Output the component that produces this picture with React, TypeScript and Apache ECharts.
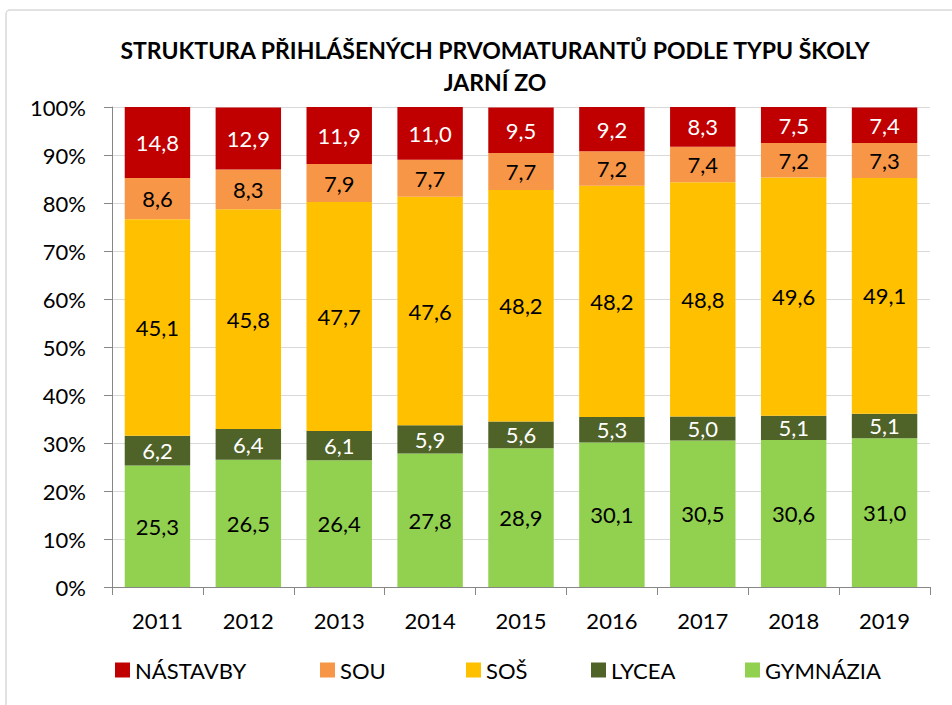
import React, { useEffect, useRef } from "react";
import * as echarts from "echarts";

const years = ["2011", "2012", "2013", "2014", "2015", "2016", "2017", "2018", "2019"];
const gymnazia = [25.3, 26.5, 26.4, 27.8, 28.9, 30.1, 30.5, 30.6, 31.0];
const lycea = [6.2, 6.4, 6.1, 5.9, 5.6, 5.3, 5.0, 5.1, 5.1];
const sos = [45.1, 45.8, 47.7, 47.6, 48.2, 48.2, 48.8, 49.6, 49.1];
const sou = [8.6, 8.3, 7.9, 7.7, 7.7, 7.2, 7.4, 7.2, 7.3];
const nastavby = [14.8, 12.9, 11.9, 11.0, 9.5, 9.2, 8.3, 7.5, 7.4];

const legendNames = ["NÁSTAVBY", "SOU", "SOŠ", "LYCEA", "GYMNÁZIA"];
const legendLeft = [115, 320, 466, 591, 745];

const FONT = "Lato, 'Open Sans', sans-serif";

export default function App() {
  const ref = useRef<HTMLDivElement>(null);
  useEffect(() => {
    const chart = echarts.init(ref.current!, undefined, { renderer: "svg" });
    const fmt = (p: any) => Number(p.value).toFixed(1).replace(".", ",");
    const mk = (name: string, data: number[], color: string, labelColor: string) => ({
      name,
      type: "bar",
      stack: "all",
      data,
      barCategoryGap: "28%",
      itemStyle: { color },
      label: {
        show: true,
        position: "inside",
        formatter: fmt,
        color: labelColor,
        fontSize: 22,
        fontFamily: FONT,
      },
    });
    chart.setOption({
      animation: false,
      textStyle: { fontFamily: FONT },
      graphic: [
        {
          type: "rect",
          shape: { x: 6, y: 10, width: 980, height: 720, r: 4 },
          style: { fill: "none", stroke: "#d9d9d9", lineWidth: 1.5 },
          z: -1,
        },
      ],
      title: {
        text: "STRUKTURA PŘIHLÁŠENÝCH PRVOMATURANTŮ PODLE TYPU ŠKOLY\nJARNÍ ZO",
        left: 490,
        top: 29,
        textAlign: "center",
        textStyle: { fontSize: 23, fontWeight: "bold", color: "#000", lineHeight: 32, fontFamily: FONT },
      },
      grid: { left: 112, right: 22, top: 107, bottom: 118, containLabel: false },
      legend: legendNames.map((n, i) => ({
        data: [n],
        left: legendLeft[i],
        top: 659,
        itemWidth: 15,
        itemHeight: 15,
        icon: "rect",
        padding: 0,
        textStyle: { fontSize: 22, color: "#000", fontFamily: FONT },
      })),
      xAxis: {
        type: "category",
        data: years,
        axisLine: { lineStyle: { color: "#868686" } },
        axisTick: { show: true, length: 8, lineStyle: { color: "#868686" } },
        axisLabel: { fontSize: 22, color: "#000", margin: 22, fontFamily: FONT },
      },
      yAxis: {
        type: "value",
        min: 0,
        max: 100,
        interval: 10,
        axisLine: { show: true, lineStyle: { color: "#868686" } },
        axisTick: { show: true, length: 8, lineStyle: { color: "#868686" } },
        axisLabel: { formatter: "{value}%", fontSize: 22, color: "#000", margin: 26, fontFamily: FONT },
        splitLine: { lineStyle: { color: "#d9d9d9" } },
      },
      series: [
        mk("GYMNÁZIA", gymnazia, "#92D050", "#000"),
        mk("LYCEA", lycea, "#4F6228", "#fff"),
        mk("SOŠ", sos, "#FFC000", "#000"),
        mk("SOU", sou, "#F79646", "#000"),
        mk("NÁSTAVBY", nastavby, "#C00000", "#fff"),
      ],
    });
    return () => chart.dispose();
  }, []);
  return (
    <div
      ref={ref}
      style={{ position: "fixed", left: 0, top: 0, width: 952, height: 705, background: "#fff" }}
    />
  );
}
